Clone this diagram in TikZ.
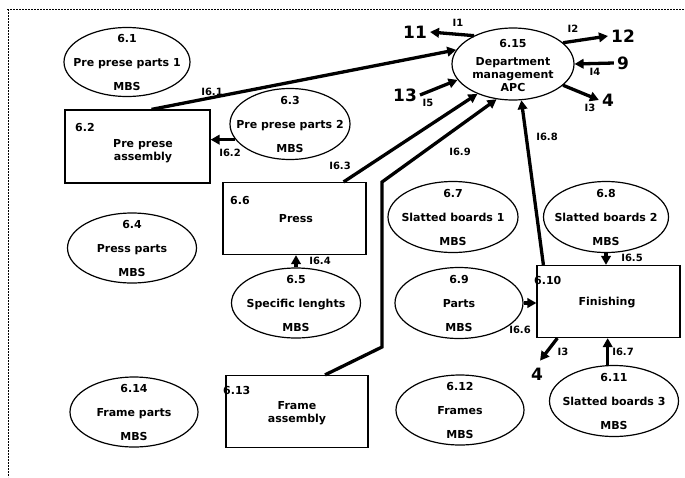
\documentclass[tikz,border=0pt]{standalone}
\usepackage{fontspec}
\setmainfont{DejaVu Sans}
\usetikzlibrary{shapes.geometric,arrows.meta,calc}

% data store: optional size keys, name, centre, number, title
\newcommand\dfdstore[5][]{%
  \node[store,#1] (#2) at (#3) {};
  \node[row] (#2-num) at ($(#2)+(0,-20)$) {#4};
  \node[row] (#2-ttl) at ($(#2)+(0,4)$) {#5};
  \node[row] (#2-mbs) at ($(#2)+(0,28)$) {MBS};
}

\begin{document}
\begin{tikzpicture}[x=1pt,y=-1pt,
  every node/.style={font=\bfseries\fontsize{11}{13}\selectfont, inner sep=0pt},
  proc/.style={draw, line width=1.2pt, rectangle, minimum width=143pt, minimum height=72pt},
  store/.style={draw, line width=1.2pt, ellipse, minimum width=128pt, minimum height=70pt},
  row/.style={anchor=base},
  pnum/.style={anchor=base west},
  ptitle/.style={align=center},
  flow/.style={line width=3.3pt, -{Triangle[length=9pt,width=9.5pt]}},
  ext/.style={font=\bfseries\fontsize{17}{17}\selectfont, inner sep=3pt},
  flab/.style={font=\bfseries\fontsize{10}{12}\selectfont},
  frameline/.style={line width=0.8pt, dash pattern=on 2pt off 1pt},
]
\useasboundingbox (0,0) rectangle (685,477);

% dashed outline of the diagram area
\draw[frameline] (7,9) -- (685,9);
\draw[frameline] (8,9) -- (8,477);

% data stores
\dfdstore[minimum width=126pt,minimum height=69pt]{n61}{127,62}{6.1}{Pre prese parts 1}
\dfdstore[minimum width=120pt,minimum height=71pt]{n63}{290,124}{6.3}{Pre prese parts 2}
\dfdstore[minimum width=129pt]{n64}{132,248}{6.4}{Press parts}
\dfdstore[minimum width=129pt]{n65}{296,303}{6.5}{Specific lenghts}
\dfdstore{n614}{134,412}{6.14}{Frame parts}
\dfdstore[minimum width=130pt,minimum height=71pt]{n67}{453,217}{6.7}{Slatted boards 1}
\dfdstore[minimum width=125pt,minimum height=71pt]{n68}{606,217}{6.8}{Slatted boards 2}
\dfdstore[minimum height=71pt]{n69}{459,303}{6.9}{Parts}
\dfdstore{n612}{460,410}{6.12}{Frames}
\dfdstore[minimum width=129pt,minimum height=71pt]{n611}{614,401}{6.11}{Slatted boards 3}

% department management
\node[store, minimum width=122pt, minimum height=72pt] (n615) at (513,64) {};
\node[row] (n615-num) at (513,47) {6.15};
\node[row] (n615-a) at (513,65) {Department};
\node[row] (n615-b) at (513,78) {management};
\node[row] (n615-c) at (513,91) {APC};

% processes
\node[proc, minimum width=145pt, minimum height=73pt] (n62) at (137.5,146.5) {};
\node[pnum] (n62-num) at (75,131) {6.2};
\node[ptitle] (n62-ttl) at (143,151) {Pre prese\\assembly};

\node[proc] (n66) at (294.5,218.5) {};
\node[pnum] (n66-num) at (230,204) {6.6};
\node[ptitle] (n66-ttl) at (296,219) {Press};

\node[proc, minimum width=142pt] (n613) at (297,411.5) {};
\node[pnum] (n613-num) at (223,394) {6.13};
\node[ptitle] (n613-ttl) at (297,413) {Frame\\assembly};

\node[proc] (n610) at (608.5,301.5) {};
\node[pnum] (n610-num) at (534,284) {6.10};
\node[ptitle] (n610-ttl) at (607,303) {Finishing};

% external sources and sinks
\node[ext] (t11) at (415,32) {11};
\node[ext] (t12) at (623,36) {12};
\node[ext] (t9)  at (623,63) {9};
\node[ext] (t4a) at (608,100) {4};
\node[ext] (t13) at (405,95) {13};
\node[ext] (t4b) at (537,374) {4};

% bends of the frame assembly flow
\coordinate (b1) at (382,347);
\coordinate (b2) at (382,182);

% flows to and from department management
\draw[flow] (n615.144) -- (t11.east);
\draw[flow] (n615.23) -- (t12.west);
\draw[flow] (n615.-23) -- (t4a.west);
\draw[flow] (t9.west) -- (n615.east);
\draw[flow] (t13.east) -- (n615.196);
\draw[flow] ([xshift=14pt]n62.north) -- (n615.166);
\draw[flow] ([xshift=-23pt]n66.north east) -- (n615.220);
\draw[flow] ([xshift=28pt]n613.north) -- (b1) -- (b2) -- (n615.245);
\draw[flow] ([xshift=7pt]n610.north west) -- (n615.283);

% flows between stores and processes
\draw[flow] (n63.196) -- (n63.196 -| n62.east);
\draw[flow] (n65.north) -- (n65.north |- n66.south);
\draw[flow] (n68.south) -- (n68.south |- n610.north);
\draw[flow] (n69.east) -- (n69.east -| n610.west);
\draw[flow] (n611.100) -- (n611.100 |- n610.south);
\draw[flow, shorten >=5pt] ([xshift=21pt]n610.south west) -- (t4b.north);

% flow labels
\node[flab] (l1) at (458,23) {I1};
\node[flab] (l2) at (573,29) {I2};
\node[flab] (l4) at (595,72) {I4};
\node[flab] (l3a) at (590,108) {I3};
\node[flab] (l5) at (428,103) {I5};
\node[flab] (l61) at (212,92) {I6.1};
\node[flab] (l62) at (230,153) {I6.2};
\node[flab] (l63) at (340,166) {I6.3};
\node[flab] (l64) at (320,261) {I6.4};
\node[flab] (l69) at (460,152) {I6.9};
\node[flab] (l68) at (547,137) {I6.8};
\node[flab] (l65) at (632,258) {I6.5};
\node[flab] (l66) at (520,330) {I6.6};
\node[flab] (l67) at (623,352) {I6.7};
\node[flab] (l3b) at (563,352) {I3};
\end{tikzpicture}
\end{document}
